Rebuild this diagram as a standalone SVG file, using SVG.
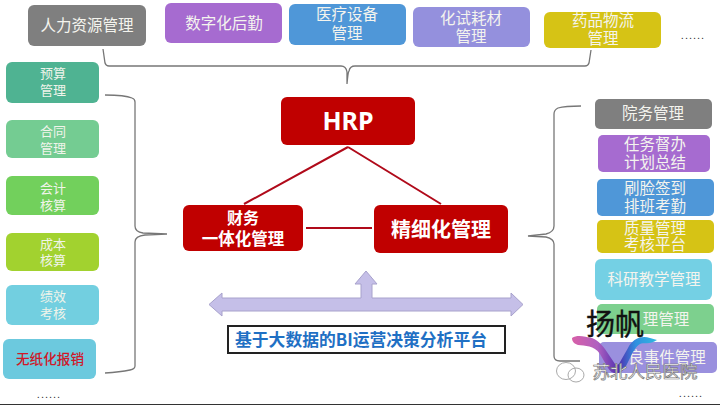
<svg xmlns="http://www.w3.org/2000/svg" width="720" height="405" viewBox="0 0 720 405">
<style>
text{font-family:"Noto Sans CJK SC","Noto Sans",sans-serif;text-anchor:middle}
.t{fill:#f4f4ee;font-size:15.5px}
.s{fill:#f0f4ea;font-size:13px}
.b{fill:#fff;font-weight:700}
.br{fill:none;stroke:#777;stroke-width:1.3}
.l{stroke:#b00a1a;stroke-width:2;fill:none}
.d{fill:#333;font-size:11px;font-family:"Liberation Sans",sans-serif;letter-spacing:1px}
</style>
<defs>
<linearGradient id="w" x1="0" y1="0" x2="1" y2="0">
<stop offset="0" stop-color="#d860a8"/><stop offset=".3" stop-color="#b060c0"/><stop offset=".55" stop-color="#5030b0"/><stop offset=".75" stop-color="#3090e0"/><stop offset="1" stop-color="#30b8e0"/>
</linearGradient>
</defs>
<rect width="720" height="405" fill="#fff"/>
<rect y="404" width="720" height="1" fill="#333"/>
<g id="connectors">
<path class="br" d="M103 49L105 63Q106 66 109 66H341Q346 66 347 72V84Q348 72 349 71Q350 66 355 66H585Q588 66 589 63L591 50"/>
<path class="br" d="M105 95Q125 95 132 98Q135 99 135 102V226Q135 232 143 233L167 234L145 235Q135 236 135 242V366Q135 369 130 370Q120 372 105 373"/>
<path class="br" d="M581 106Q565 106 558 108Q554 110 554 114V226Q554 232 546 234L528 236L546 237Q554 239 554 244V356Q554 361 560 361H580"/>
<path class="l" d="M348 147L244 204M348 147L441 204M306 228H372"/>
</g>
<g id="n-hr"><rect x="28" y="5" width="118" height="41" rx="6" fill="#7f7f7f"/><text class="t" x="87" y="31">人力资源管理</text></g>
<g id="n-logistics"><rect x="165" y="3" width="117" height="40" rx="6" fill="#a66bd0"/><text class="t" x="224" y="29">数字化后勤</text></g>
<g id="n-device"><rect x="289" y="4" width="117" height="41" rx="6" fill="#4f97d8"/><text class="t" x="347" y="20">医疗设备<tspan x="347" dy="19">管理</tspan></text></g>
<g id="n-reagent"><rect x="413" y="7" width="117" height="40" rx="6" fill="#9490dd"/><text class="t" x="471" y="24">化试耗材<tspan x="471" dy="18">管理</tspan></text></g>
<g id="n-drug"><rect x="544" y="12" width="117" height="36" rx="6" fill="#d6c315"/><text class="t" x="603" y="26">药品物流<tspan x="603" dy="18">管理</tspan></text></g>
<text class="d" x="693" y="39">......</text>

<g id="n-budget"><rect x="6" y="62" width="93" height="41" rx="6" fill="#4fb392"/><text class="s" x="53" y="78">预算<tspan x="53" dy="17">管理</tspan></text></g>
<g id="n-contract"><rect x="6" y="120" width="93" height="38" rx="6" fill="#74cc92"/><text class="s" x="53" y="136">合同<tspan x="53" dy="17">管理</tspan></text></g>
<g id="n-account"><rect x="6" y="176" width="93" height="39" rx="6" fill="#72d05c"/><text class="s" x="53" y="193">会计<tspan x="53" dy="17">核算</tspan></text></g>
<g id="n-cost"><rect x="6" y="233" width="93" height="38" rx="6" fill="#a2d22f"/><text class="s" x="53" y="249">成本<tspan x="53" dy="16">核算</tspan></text></g>
<g id="n-perf"><rect x="6" y="285" width="93" height="40" rx="6" fill="#72cfe0"/><text class="s" x="53" y="301">绩效<tspan x="53" dy="17">考核</tspan></text></g>
<g id="n-paperless"><rect x="3" y="339" width="93" height="40" rx="6" fill="#6cc9de"/><text x="50" y="364" style="fill:#d01828;font-weight:500;font-size:13.6px">无纸化报销</text></g>
<text class="d" x="49" y="398">......</text>

<g id="n-hrp"><rect x="281" y="97" width="134" height="48" rx="6" fill="#c00000"/><text class="b" style="font-size:25px;font-family:'Noto Sans',sans-serif" x="348" y="130">HRP</text></g>
<g id="n-finance"><rect x="183" y="205" width="120" height="46" rx="6" fill="#c00000"/><text class="b" style="font-size:16px" x="243" y="224">财务<tspan x="243" dy="21" style="font-size:16.5px">一体化管理</tspan></text></g>
<g id="n-fine"><rect x="374" y="205" width="134" height="48" rx="6" fill="#c00000"/><text class="b" style="font-size:20px" x="441" y="237">精细化管理</text></g>

<g id="n-platform">
<path d="M209 304.500L222 293V298H361V284H355L366 271L377 284H372V298H511V293L523 304.500L511 316V311H222V316Z" fill="#c5bfe8" stroke="#a8a2cc" stroke-width="1"/>
<rect x="228" y="326" width="277" height="27" fill="#fff" stroke="#222" stroke-width="2"/>
<text x="361" y="346" style="font-size:16.8px;font-weight:700;fill:#1f70c4">基于大数据的BI运营决策分析平台</text>
</g>

<g id="n-admin"><rect x="595" y="99" width="117" height="30" rx="5" fill="#7f7f7f"/><text class="t" x="653" y="119">院务管理</text></g>
<g id="n-task"><rect x="598" y="135" width="112" height="37" rx="5" fill="#a66bd0"/><text class="t" x="655" y="150">任务督办<tspan x="655" dy="18">计划总结</tspan></text></g>
<g id="n-face"><rect x="597" y="179" width="117" height="37" rx="5" fill="#4f97d8"/><text class="t" x="655" y="194">刷脸签到<tspan x="655" dy="18">排班考勤</tspan></text></g>
<g id="n-quality"><rect x="597" y="220" width="117" height="33" rx="5" fill="#d6c315"/><text class="t" x="655" y="234">质量管理<tspan x="655" dy="16">考核平台</tspan></text></g>
<g id="n-research"><rect x="595" y="259" width="117" height="41" rx="6" fill="#74d0e4"/><text class="t" x="654" y="284.500">科研教学管理</text></g>
<g id="n-nursing"><rect x="597" y="304" width="117" height="30" rx="5" fill="#7dd08e"/><text class="t" x="666" y="325">理管理</text></g>
<g id="n-adverse"><rect x="599" y="342" width="118" height="31" rx="5" fill="#9a90de"/><text class="t" x="667" y="363">良事件管理</text></g>
<text class="d" x="691" y="397">......</text>

<g id="watermark">
<path d="M572 338C578 334 585 337 592 338C598 340 603 346 607 352L615 364C617 365 619 365 620 362L628 348C632 340 640 335 650 338L657 340C650 345 643 342 640 344C636 346 633 352 630 358L625 368C620 375 612 375 608 368L600 354C594 345 585 346 578 345C575 344 572 342 572 338Z" fill="url(#w)"/>
<text x="615" y="335" style="font-size:29px;fill:#111;stroke:#111;stroke-width:.4">扬帆</text>
<g fill="none" stroke="#aaa" stroke-width="1"><ellipse cx="566" cy="371" rx="9.5" ry="8.5"/><ellipse cx="576" cy="375" rx="8" ry="7"/></g>
<text x="645" y="378" style="font-size:17.5px;fill:#fff;stroke:#777;stroke-width:.7">苏北人民医院</text>
</g>
</svg>
